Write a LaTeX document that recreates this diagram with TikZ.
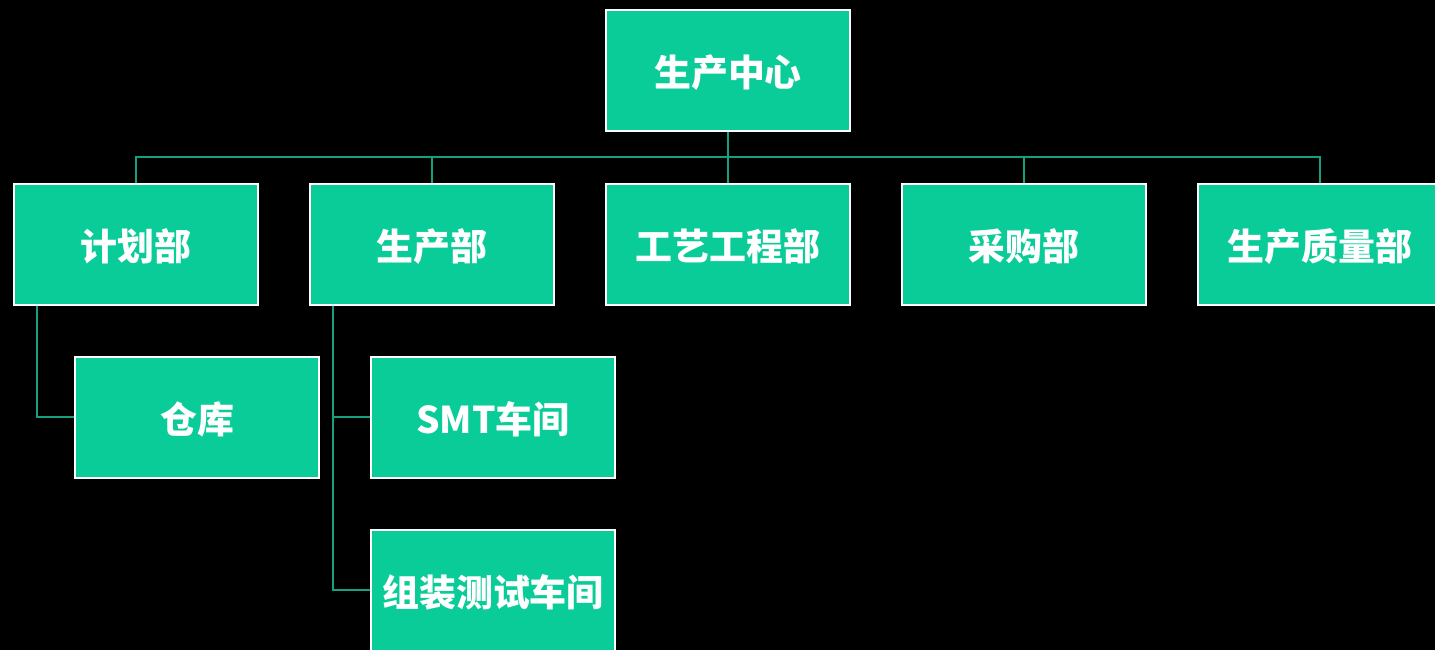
\documentclass[tikz,border=0pt]{standalone}
\usepackage{fontspec}
\newfontfamily\cjk{Noto Sans CJK SC}
\usetikzlibrary{positioning}
\definecolor{boxgreen}{RGB}{10,204,152}
\definecolor{linkgreen}{RGB}{22,160,125}
\tikzstyle{unit} = [rectangle, draw=white, line width=1.1pt, fill=boxgreen,
  minimum width=4.88cm, minimum height=2.42cm, inner sep=0pt,
  text height=21pt, text depth=3pt,
  text=white, font=\cjk\bfseries\fontsize{21}{25}\selectfont]
\tikzstyle{link} = [draw=linkgreen, line width=1.1pt]

\begin{document}
\begin{tikzpicture}[node distance=1.0cm]
    \fill[black] (0,0) rectangle (28.7,-13);
    \useasboundingbox (0,0) rectangle (28.7,-13);

    \node (center) [unit] at (14.56,-1.41) {生产中心};
    \node (gongyi) [unit, below=1.02cm of center] {工艺工程部};
    \node (shengchan) [unit, left=of gongyi] {生产部};
    \node (jihua) [unit, left=of shengchan] {计划部};
    \node (caigou) [unit, right=of gongyi] {采购部};
    \node (zhiliang) [unit, right=of caigou] {生产质量部};

    \node (cangku) [unit, below=of jihua, xshift=1.22cm] {仓库};
    \node (smt) [unit, below=of shengchan, xshift=1.22cm] {SMT车间};
    \node (zuzhuang) [unit, below=of smt] {组装测试车间};

    \coordinate (bus) at ([yshift=-0.51cm]center.south);
    \draw[link] (center.south) -- (bus);
    \draw[link] (bus) -| (jihua.north);
    \draw[link] (bus) -| (shengchan.north);
    \draw[link] (bus) -- (gongyi.north);
    \draw[link] (bus) -| (caigou.north);
    \draw[link] (bus) -| (zhiliang.north);

    \draw[link] ([xshift=0.48cm]jihua.south west) |- (cangku.west);
    \draw[link] ([xshift=0.48cm]shengchan.south west) |- (smt.west);
    \draw[link] ([xshift=0.48cm]shengchan.south west) |- (zuzhuang.west);
\end{tikzpicture}
\end{document}
